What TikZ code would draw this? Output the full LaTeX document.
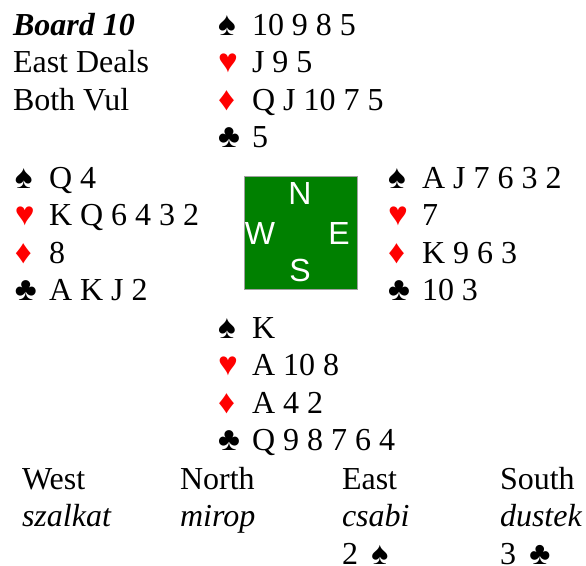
\documentclass[tikz,border=0pt]{standalone}
\usepackage{fontspec}
\setmainfont{Liberation Serif}
\newfontfamily\suitfont{Liberation Sans}
\usepackage{xcolor}
\usetikzlibrary{positioning,shapes,shapes.multipart}

\definecolor{suitred}{RGB}{255,0,0}
\definecolor{felt}{RGB}{0,128,0}
\definecolor{feltedge}{RGB}{160,160,160}

% suit symbol in a fixed box, then the cards
\newcommand{\suitbox}[2]{\makebox[25.5pt][l]{\textcolor{#1}{\suitfont\fontsize{25}{25}\selectfont #2}}}
\newcommand{\spd}{\strut\suitbox{black}{♠}}
\newcommand{\hrt}{\strut\suitbox{suitred}{♥}}
\newcommand{\dmd}{\strut\suitbox{suitred}{♦}}
\newcommand{\clb}{\strut\suitbox{black}{♣}}
\newcommand{\bidsuit}[1]{\hspace{4pt}\raisebox{0pt}[\height][0pt]{\suitfont\fontsize{24}{24}\selectfont #1}}
% strut height only, for the last row
\newcommand{\topstrut}{\rule{0pt}{19.4pt}}

\tikzset{
    column/.style={
        rectangle split,
        rectangle split part align={left},
        inner xsep=0pt,
        inner ysep=0pt,
        anchor=text,
        font=\fontsize{24}{27.75}\selectfont
    },
    hand/.style={column, rectangle split parts=4},
    seat/.style={text=white, inner sep=0pt, font=\suitfont\fontsize{24}{24}\selectfont}
}

\begin{document}
\begin{tikzpicture}[x=0.75pt, y=-0.75pt]
        \useasboundingbox (0,0) rectangle (586,565);

        \node (info) [column, rectangle split parts=3] at (13,35)
        {
            \nodepart{one}
                \strut\textbf{\textit{Board 10}}
            \nodepart{two}
                \strut East Deals
            \nodepart{three}
                \strut Both Vul
        };

        \node (north) [hand] at (218,35)
        {
            \nodepart{one}
                \spd 10 9 8 5
            \nodepart{two}
                \hrt J 9 5
            \nodepart{three}
                \dmd Q J 10 7 5
            \nodepart{four}
                \clb 5
        };

        \node (west) [hand] at (15,188)
        {
            \nodepart{one}
                \spd Q 4
            \nodepart{two}
                \hrt K Q 6 4 3 2
            \nodepart{three}
                \dmd 8
            \nodepart{four}
                \clb A K J 2
        };

        \node (east) [hand] at (388,188)
        {
            \nodepart{one}
                \spd A J 7 6 3 2
            \nodepart{two}
                \hrt 7
            \nodepart{three}
                \dmd K 9 6 3
            \nodepart{four}
                \clb 10 3
        };

        \node (south) [hand] at (218,338)
        {
            \nodepart{one}
                \spd K
            \nodepart{two}
                \hrt A 10 8
            \nodepart{three}
                \dmd A 4 2
            \nodepart{four}
                \clb Q 9 8 7 6 4
        };

        % the table
        \node (table) [
            rectangle,
            fill=felt,
            draw=feltedge,
            line width=0.75pt,
            minimum size=84.75pt,
            inner sep=0pt
        ] at (301,233) {};
        \node (seatN) [seat] at (300,193) {N};
        \node (seatW) [seat] at (260,233) {W};
        \node (seatE) [seat] at (339,233) {E};
        \node (seatS) [seat] at (300,270) {S};

        % auction
        \node (bidW) [column, rectangle split parts=2] at (22,489)
        {
            \nodepart{one}
                \strut West
            \nodepart{two}
                \strut\textit{szalkat}
        };
        \node (bidN) [column, rectangle split parts=2] at (180,489)
        {
            \nodepart{one}
                \strut North
            \nodepart{two}
                \strut\textit{mirop}
        };
        \node (bidE) [column, rectangle split parts=3] at (342,489)
        {
            \nodepart{one}
                \strut East
            \nodepart{two}
                \strut\textit{csabi}
            \nodepart{three}
                \topstrut 2 \bidsuit{♠}
        };
        \node (bidS) [column, rectangle split parts=3] at (500,489)
        {
            \nodepart{one}
                \strut South
            \nodepart{two}
                \strut\textit{dustek}
            \nodepart{three}
                \topstrut 3 \bidsuit{♣}
        };
    \end{tikzpicture}
\end{document}
